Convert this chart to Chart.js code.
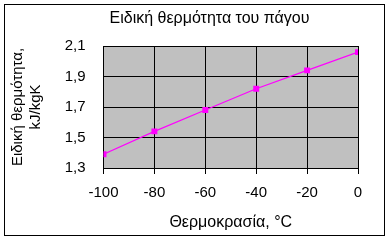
<!DOCTYPE html>
<html>
<head>
<meta charset="utf-8">
<script src="https://cdn.jsdelivr.net/npm/chart.js@4"></script>
<style>
  html, body { margin: 0; padding: 0; background: #fff; }
  #wrap { width: 390px; height: 240px; }
</style>
</head>
<body>
<div id="wrap"><canvas id="grafico"></canvas></div>
<script>
// data
const temperaturas = [-100, -80, -60, -40, -20, 0];
const calorEspecifico = [1.39, 1.54, 1.68, 1.82, 1.94, 2.06];
const yTicks = [1.3, 1.5, 1.7, 1.9, 2.1];
const xTicks = [-100, -80, -60, -40, -20, 0];

const fonte = "'Liberation Sans', Arial, sans-serif";

// gray plot area + outer frame
const fundo = {
  id: 'fundo',
  afterLayout(chart) {
    // title in the original sits a bit right of the canvas centre
    chart.titleBlock.left = 29;
    chart.titleBlock.right = 390;
  },
  beforeDraw(chart) {
    const { ctx, chartArea: a } = chart;
    ctx.save();
    ctx.fillStyle = '#C0C0C0';
    ctx.fillRect(a.left, a.top, a.right - a.left, a.bottom - a.top);
    ctx.restore();
  },
  afterDraw(chart) {
    const ctx = chart.ctx;
    ctx.save();
    ctx.strokeStyle = '#000';
    ctx.lineWidth = 1;
    ctx.strokeRect(4.5, 4.5, 380, 231);
    ctx.restore();
  }
};

const ctx = document.getElementById('grafico');

new Chart(ctx, {
  type: 'line',
  data: {
    datasets: [{
      label: 'Ειδική θερμότητα',
      data: temperaturas.map((t, i) => ({ x: t, y: calorEspecifico[i] })),
      borderColor: '#FF00FF',
      backgroundColor: '#FF00FF',
      borderWidth: 1.2,
      pointStyle: 'rect',
      pointRadius: 4.2,
      pointBorderWidth: 0,
      tension: 0
    }]
  },
  options: {
    responsive: true,
    maintainAspectRatio: false,
    animation: false,
    layout: { padding: { left: 0, right: 32, top: 0, bottom: 0 } },
    plugins: {
      legend: { display: false },
      tooltip: { enabled: false },
      title: {
        display: true,
        text: 'Ειδική θερμότητα του πάγου',
        color: '#000',
        font: { family: fonte, size: 16, weight: 'normal' },
        padding: { top: 9, bottom: 17.8 }
      }
    },
    scales: {
      x: {
        type: 'linear',
        min: -100,
        max: 0,
        afterFit(s) { s.height = 72; },
        afterBuildTicks(s) { s.ticks = xTicks.map(v => ({ value: v })); },
        grid: { color: '#000', lineWidth: 1, tickLength: 6, drawTicks: true },
        border: { color: '#000', width: 1 },
        ticks: {
          color: '#000',
          font: { family: fonte, size: 15 },
          padding: 10,
          maxRotation: 0
        },
        title: {
          display: true,
          text: 'Θερμοκρασία, °C',
          color: '#000',
          font: { family: fonte, size: 16 },
          padding: { top: 0, bottom: 8 }
        }
      },
      y: {
        min: 1.3,
        max: 2.1,
        afterFit(s) { s.width = 103.5; },
        afterBuildTicks(s) { s.ticks = yTicks.map(v => ({ value: v })); },
        grid: { color: '#000', lineWidth: 1, drawTicks: false },
        border: { color: '#000', width: 1 },
        ticks: {
          color: '#000',
          font: { family: fonte, size: 15 },
          padding: 18,
          callback: v => v.toFixed(1).replace('.', ',')
        },
        title: {
          display: true,
          text: ['Ειδική θερμότητα,', 'kJ/kgK'],
          color: '#000',
          font: { family: fonte, size: 15 },
          padding: { top: 9, bottom: 0 }
        }
      }
    }
  },
  plugins: [fundo]
});
</script>
</body>
</html>
